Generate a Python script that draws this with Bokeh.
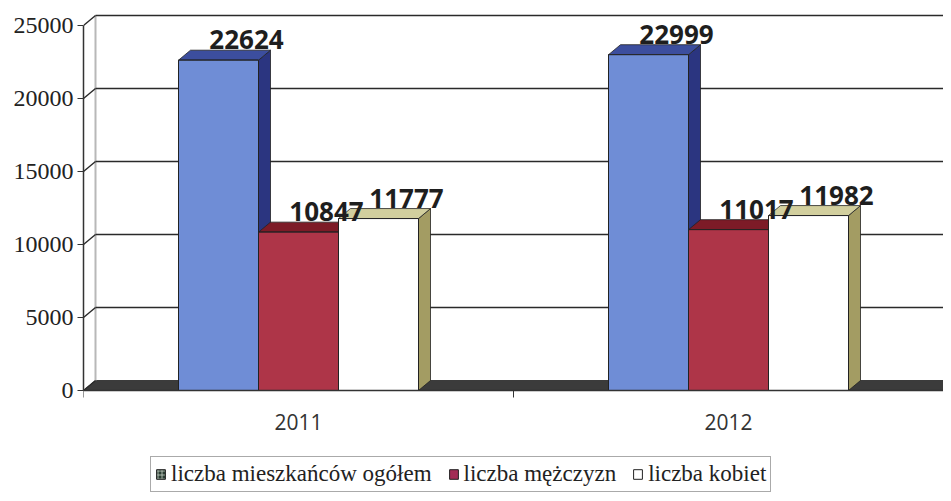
from bokeh.plotting import figure
from bokeh.models import Range1d, FixedTicker, Legend, LegendItem
from bokeh.embed import file_html
from bokeh.resources import INLINE
from bokeh.core.properties import value

# ---- data ----
years = ["2011", "2012"]
series = ["liczba mieszkańców ogółem", "liczba mężczyzn", "liczba kobiet"]
ogolem = [22624, 22999]
mezczyzn = [10847, 11017]
kobiet = [11777, 11982]
y_ticks = [0, 5000, 10000, 15000, 20000, 25000]

values_by_series = [ogolem, mezczyzn, kobiet]

# ---- styles ----
front_cols = ["#6f8dd6", "#ae3548", "#ffffff"]
top_cols = ["#3c4e9e", "#7d1b27", "#d2cf9e"]
side_cols = ["#2b3580", "#7a1a26", "#a39c63"]
legend_cols = ["#2c3e33", "#a32c55", "#ffffff"]

W, H = 943, 493
FL, FT = 83, 10
ZERO_Y = 390                    # pixel row of the value 0
fw = W - FL
ppx = fw / len(years)           # pixels per category
ppy = 365.0 / 25000.0            # pixels per unit
y_end = (ZERO_Y - FT) / ppy
y_start = -(H - ZERO_Y) / ppy
DX = 12.0 / ppx                 # 3D depth offsets in data units
DY = 10.0 / ppy
BW = 80.0 / ppx                 # bar width in data units

p = figure(width=W, height=H, x_range=Range1d(0, len(years)), y_range=Range1d(y_start, y_end),
           output_backend="svg", toolbar_location=None,
           min_border_left=FL, min_border_right=0, min_border_top=FT, min_border_bottom=0)
p.outline_line_color = None
p.xgrid.visible = False
p.ygrid.visible = False
p.background_fill_color = "white"
p.border_fill_color = "white"

nx = len(years)
ymax = y_ticks[-1]

# floor
p.patch(x=[0, nx, nx + DX, DX], y=[0, 0, DY, DY], fill_color="#3b3b3b", line_color="#3b3b3b")
# left wall back edge
p.segment(x0=[DX], y0=[DY], x1=[DX], y1=[ymax + DY], line_color="#b8b8b8", line_width=2)
# back wall gridlines + connectors
gt = [t for t in y_ticks if t > 0]
p.segment(x0=[DX] * len(gt), y0=[t + DY for t in gt], x1=[nx] * len(gt), y1=[t + DY for t in gt],
          line_color="#2a2a2a", line_width=1.6)
p.segment(x0=[0] * len(y_ticks), y0=y_ticks, x1=[DX] * len(y_ticks), y1=[t + DY for t in y_ticks],
          line_color="#2a2a2a", line_width=1.4)

# bars
side_xs, side_ys, side_c = [], [], []
top_xs, top_ys, top_c = [], [], []
lab_x, lab_y, lab_t = [], [], []
fronts_by_series = []
for j, vals in enumerate(values_by_series):
    fr = dict(left=[], right=[], top=[], bottom=[])
    for i, yr in enumerate(years):
        c = i + 0.5
        v = vals[i]
        x0 = c + (j - 1.5) * BW
        x1 = x0 + BW
        side_xs.append([x1, x1 + DX, x1 + DX, x1])
        side_ys.append([0, DY, v + DY, v])
        side_c.append(side_cols[j])
        top_xs.append([x0, x1, x1 + DX, x0 + DX])
        top_ys.append([v, v, v + DY, v + DY])
        top_c.append(top_cols[j])
        fr["left"].append(x0)
        fr["right"].append(x1)
        fr["top"].append(v)
        fr["bottom"].append(0)
        lab_x.append((x0 + x1) / 2)
        lab_y.append(v)
        lab_t.append(str(v))
    fronts_by_series.append(fr)

p.patches(xs=side_xs, ys=side_ys, fill_color=side_c, line_color="#222222", line_width=0.8)
p.patches(xs=top_xs, ys=top_ys, fill_color=top_c, line_color="#222222", line_width=0.8)

# legend key renderers (hidden beneath the bar fronts)
legend_renderers = []
for j, fr in enumerate(fronts_by_series):
    kw = {}
    if j == 0:
        kw = dict(hatch_pattern="cross", hatch_color="#c8d4c8", hatch_scale=4, hatch_weight=0.8)
    r = p.quad(**fr, fill_color=legend_cols[j], line_color="#222222", line_width=1, **kw)
    legend_renderers.append(r)

for j, fr in enumerate(fronts_by_series):
    p.quad(**fr, fill_color=front_cols[j], line_color="#222222", line_width=1)

p.text(x=lab_x, y=lab_y, text=lab_t, text_align="center", text_baseline="bottom",
       x_offset=28, y_offset=-11, text_font=value("Open Sans"), text_font_style="bold",
       text_font_size="26px", text_color="#1e1e1e")

# axes
p.xaxis.fixed_location = 0
p.xaxis.ticker = FixedTicker(ticks=[i + 0.5 for i in range(nx)], minor_ticks=list(range(nx + 1)))
p.xaxis.major_label_overrides = {i + 0.5: yr for i, yr in enumerate(years)}
p.xaxis.major_tick_out = 0
p.xaxis.major_tick_in = 0
p.xaxis.minor_tick_out = 7
p.xaxis.minor_tick_in = 0
p.xaxis.minor_tick_line_color = "#333333"
p.xaxis.axis_line_color = "#333333"
p.xaxis.axis_line_width = 1.5
p.xaxis.major_label_text_font = "Open Sans"
p.xaxis.major_label_text_font_size = "21px"
p.xaxis.major_label_text_color = "#333333"
p.xaxis.major_label_standoff = 16

p.yaxis.ticker = FixedTicker(ticks=y_ticks, minor_ticks=[])
p.yaxis.bounds = (0, ymax)
p.yaxis.major_tick_out = 6
p.yaxis.major_tick_in = 0
p.yaxis.major_tick_line_color = "#333333"
p.yaxis.axis_line_color = "#333333"
p.yaxis.axis_line_width = 1.5
p.yaxis.major_label_text_font = "Liberation Serif"
p.yaxis.major_label_text_font_size = "24px"
p.yaxis.major_label_text_color = "#222222"
p.yaxis.major_label_standoff = 4

# legend
items = [LegendItem(label=name, renderers=[legend_renderers[j]]) for j, name in enumerate(series)]
legend = Legend(items=items, orientation="horizontal", location=(67, 1),
                label_text_font="Liberation Serif", label_text_font_size="23px",
                label_text_color="#222222", glyph_width=11, glyph_height=12,
                label_standoff=5, spacing=16, padding=4, margin=0,
                border_line_color="#555555", border_line_width=1.5,
                background_fill_color="white", background_fill_alpha=1)
p.add_layout(legend, "center")

open("out.html", "w").write(file_html(p, INLINE))
